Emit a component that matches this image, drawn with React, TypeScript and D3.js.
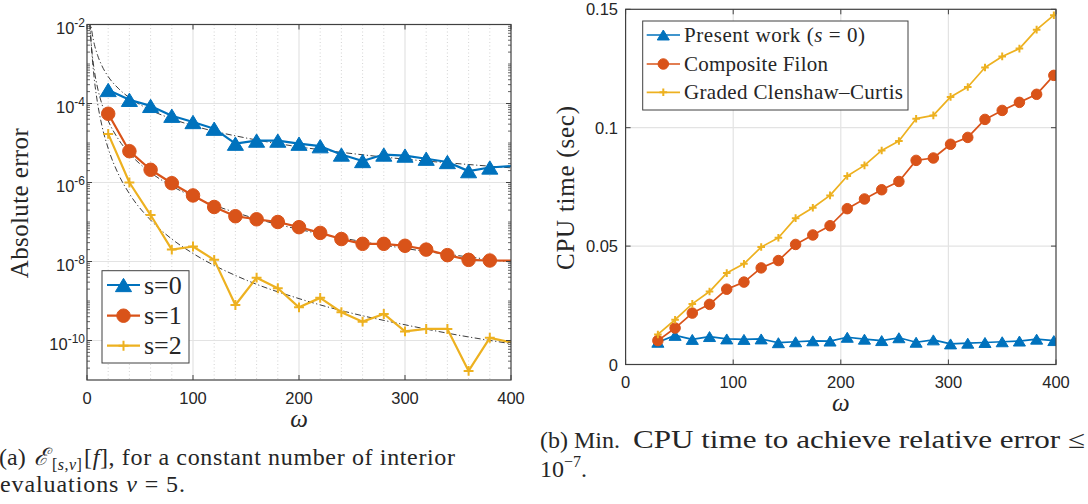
import React from 'react';
import * as d3 from 'd3';

// ---------- Data: panel (a) ----------
const omegaA = [20, 40, 60, 80, 100, 120, 140, 160, 180, 200, 220, 240, 260, 280, 300, 320, 340, 360, 380, 420];
const errS0 = [2.2e-4, 1.24e-4, 8.7e-5, 4.9e-5, 3.4e-5, 2.3e-5, 9.6e-6, 1.15e-5, 1.15e-5, 9.6e-6, 8.3e-6, 5.1e-6, 3.5e-6, 5.1e-6, 4.8e-6, 4.0e-6, 3.3e-6, 1.94e-6, 2.4e-6, 2.8e-6];
const errS1 = [5.5e-5, 6.2e-6, 2.1e-6, 9.6e-7, 4.7e-7, 2.4e-7, 1.4e-7, 1.17e-7, 1.0e-7, 7.4e-8, 5.3e-8, 3.7e-8, 2.8e-8, 2.8e-8, 2.5e-8, 2.0e-8, 1.45e-8, 1.1e-8, 1.06e-8, 1.05e-8];
const errS2 = [1.7e-5, 1.0e-6, 1.5e-7, 2.0e-8, 2.4e-8, 1.1e-8, 7.9e-10, 3.9e-9, 2.1e-9, 6.9e-10, 1.2e-9, 5.2e-10, 3.0e-10, 4.7e-10, 1.7e-10, 1.96e-10, 1.96e-10, 1.7e-11, 1.17e-10, 7.0e-11];
const markerCountA = 19; // markers drawn for omega 20..380 (last point lies beyond the axis)

const refOmega = [2, 3, 4, 5, 7, 10, 14, 20, 30, 40, 60, 80, 100, 150, 200, 250, 300, 350, 400];
const refS0 = [2.9e-2, 1.4e-2, 8.5e-3, 5.7e-3, 3.1e-3, 1.66e-3, 9.1e-4, 4.8e-4, 2.35e-4, 1.4e-4, 6.8e-5, 4.1e-5, 2.75e-5, 1.34e-5, 8.0e-6, 5.4e-6, 3.9e-6, 3.0e-6, 2.35e-6];
const refS1 = [2.07e-2, 6.8e-3, 3.1e-3, 1.66e-3, 6.6e-4, 2.47e-4, 9.8e-5, 3.67e-5, 1.2e-5, 5.45e-6, 1.79e-6, 8.1e-7, 4.4e-7, 1.44e-7, 6.5e-8, 3.55e-8, 2.14e-8, 1.41e-8, 9.7e-9];
const refS2 = [4.6e-2, 9.8e-3, 3.3e-3, 1.4e-3, 3.9e-4, 1.01e-4, 2.8e-5, 7.3e-6, 1.55e-6, 5.2e-7, 1.12e-7, 3.7e-8, 1.6e-8, 3.4e-9, 1.15e-9, 4.9e-10, 2.5e-10, 1.37e-10, 8.3e-11];

const xTicksA = [0, 100, 200, 300, 400];
const xMinorA = [20, 40, 60, 80, 120, 140, 160, 180, 220, 240, 260, 280, 320, 340, 360, 380];
const yTickExpA = [-2, -4, -6, -8, -10];
const legendA = ['s=0', 's=1', 's=2'];

// ---------- Data: panel (b) ----------
const omegaB = [30, 46, 62, 78, 94, 110, 126, 142, 158, 174, 190, 206, 222, 238, 254, 270, 286, 302, 318, 334, 350, 366, 382, 398];
const cpuPresent = [0.0094, 0.0123, 0.0106, 0.0118, 0.0108, 0.0106, 0.0108, 0.0092, 0.0096, 0.0100, 0.0099, 0.0115, 0.0107, 0.0101, 0.0113, 0.0094, 0.0104, 0.0087, 0.0090, 0.0093, 0.0096, 0.0099, 0.0107, 0.0101];
const cpuFilon = [0.0101, 0.0154, 0.0217, 0.0254, 0.0318, 0.0348, 0.0408, 0.0439, 0.0507, 0.0547, 0.0586, 0.0658, 0.0699, 0.0738, 0.0773, 0.0862, 0.0872, 0.0930, 0.0959, 0.1035, 0.1073, 0.1107, 0.1141, 0.1221];
const cpuGraded = [0.0127, 0.0189, 0.0256, 0.0308, 0.0386, 0.0425, 0.0496, 0.0535, 0.0618, 0.0662, 0.0714, 0.0796, 0.0841, 0.0904, 0.0944, 0.1038, 0.1052, 0.1130, 0.1172, 0.1254, 0.1301, 0.1334, 0.1414, 0.1475];
const xTicksB = [0, 100, 200, 300, 400];
const yTicksB = [0, 0.05, 0.1, 0.15];
const yTickLabelsB = ['0', '0.05', '0.1', '0.15'];

// caption subscript pieces of E_[s,nu]
const subPieces = ['[', 's', ',', 'ν', ']'];

const BLUE = '#0072BD';
const ORANGE = '#D95319';
const YELLOW = '#EDB120';
const AXIS = '#404040';
const TEXT = '#262626';
const GRID = '#e3e3e3';
const SANS = '"Liberation Sans", Arial, Helvetica, sans-serif';
const SERIF = '"Liberation Serif", "DejaVu Serif", serif';

type Kind = 'tri' | 'circ' | 'plus';

function Marker({ kind, x, y, color, size }: { kind: Kind; x: number; y: number; color: string; size: number }) {
  if (kind === 'tri') {
    const w = size * 1.15, h = size * 0.95;
    return <path d={`M${x},${y - h / 2}L${x + w / 2},${y + h / 2}L${x - w / 2},${y + h / 2}Z`} fill={color} stroke={color} strokeWidth={1} />;
  }
  if (kind === 'circ') {
    return <circle cx={x} cy={y} r={size / 2} fill={color} stroke={color} strokeWidth={1} />;
  }
  const a = size * 0.38;
  return <path d={`M${x - a},${y}H${x + a}M${x},${y - a}V${y + a}`} stroke={color} strokeWidth={size > 9 ? 2 : 1.6} fill="none" />;
}

export default function App() {
  // Panel (a) scales
  const xA = d3.scaleLinear().domain([0, 400]).range([87, 511]);
  const yA = d3.scaleLog().domain([1e-11, 1e-2]).range([380, 24.5]);
  // Panel (b) scales
  const xB = d3.scaleLinear().domain([0, 400]).range([625.6, 1056]);
  const yB = d3.scaleLinear().domain([0, 0.15]).range([364.5, 9.3]);

  const lineA = (vals: number[]) =>
    d3.line<number>().x((_, i) => xA(omegaA[i])).y((v) => yA(v))(vals) || '';
  const refLine = (vals: number[]) =>
    d3.line<number>().x((_, i) => xA(refOmega[i])).y((v) => yA(v)).curve(d3.curveMonotoneX)(vals) || '';
  const lineB = (vals: number[]) =>
    d3.line<number>().x((_, i) => xB(omegaB[i])).y((v) => yB(v))(vals) || '';

  const [ax0, ax1] = xA.range();
  const [ay1, ay0] = yA.range();
  const [bx0, bx1] = xB.range();
  const [by1, by0] = yB.range();

  const minorY: number[] = [];
  for (let e = -11; e < -2; e++) {
    for (let k = 1; k <= 9; k++) {
      const v = k * Math.pow(10, e);
      if (k === 1 && e % 2 === 0) continue;
      if (v > 1e-11 && v < 1e-2) minorY.push(v);
    }
  }

  const seriesA = [
    { vals: errS0, color: BLUE, kind: 'tri' as Kind, size: 14 },
    { vals: errS1, color: ORANGE, kind: 'circ' as Kind, size: 13.5 },
    { vals: errS2, color: YELLOW, kind: 'plus' as Kind, size: 13 },
  ];
  const seriesB = [
    { vals: cpuPresent, color: BLUE, kind: 'tri' as Kind, size: 10.5, label: 'present' },
    { vals: cpuFilon, color: ORANGE, kind: 'circ' as Kind, size: 10.5, label: 'Composite Filon' },
    { vals: cpuGraded, color: YELLOW, kind: 'plus' as Kind, size: 10, label: 'Graded Clenshaw–Curtis' },
  ];

  const subX = [52, 57.8, 64.6, 69, 76.6];

  return (
    <svg width={1088} height={504} style={{ position: 'absolute', left: 0, top: 0, background: '#fff' }}>
      <defs>
        <clipPath id="clipA"><rect x={ax0} y={ay0} width={ax1 - ax0} height={ay1 - ay0} /></clipPath>
        <clipPath id="clipB"><rect x={bx0} y={by0} width={bx1 - bx0} height={by1 - by0} /></clipPath>
      </defs>
      <rect x={0} y={0} width={1088} height={504} fill="#fff" />

      {/* ================= Panel (a) ================= */}
      <g>
        {xMinorA.map((t) => (
          <line key={'mg' + t} x1={xA(t)} x2={xA(t)} y1={ay0} y2={ay1} stroke="#c8c8c8" strokeWidth={0.8} strokeDasharray="1,2.5" />
        ))}
        {xTicksA.slice(1, -1).map((t) => (
          <line key={'gx' + t} x1={xA(t)} x2={xA(t)} y1={ay0} y2={ay1} stroke={GRID} strokeWidth={1.2} />
        ))}
        {yTickExpA.slice(1).map((e) => (
          <line key={'gy' + e} x1={ax0} x2={ax1} y1={yA(Math.pow(10, e))} y2={yA(Math.pow(10, e))} stroke={GRID} strokeWidth={1.2} />
        ))}

        <g clipPath="url(#clipA)" fill="none" stroke="#262626" strokeWidth={0.9} strokeDasharray="6,2.5,1.2,2.5">
          <path d={refLine(refS0)} />
          <path d={refLine(refS1)} />
          <path d={refLine(refS2)} />
        </g>

        <g clipPath="url(#clipA)">
          {seriesA.map((s, si) => (
            <g key={'sa' + si}>
              <path d={lineA(s.vals)} fill="none" stroke={s.color} strokeWidth={2.2} strokeLinejoin="round" />
              {s.vals.slice(0, markerCountA).map((v, i) => (
                <Marker key={i} kind={s.kind} x={xA(omegaA[i])} y={yA(v)} color={s.color} size={s.size} />
              ))}
            </g>
          ))}
        </g>

        <rect x={ax0} y={ay0} width={ax1 - ax0} height={ay1 - ay0} fill="none" stroke={AXIS} strokeWidth={1.2} />
        {xTicksA.map((t) => (
          <g key={'xt' + t}>
            <line x1={xA(t)} x2={xA(t)} y1={ay1} y2={ay1 - 5} stroke={AXIS} strokeWidth={1} />
            <line x1={xA(t)} x2={xA(t)} y1={ay0} y2={ay0 + 5} stroke={AXIS} strokeWidth={1} />
            <text x={xA(t)} y={404} textAnchor="middle" fontFamily={SANS} fontSize={16.5} fill={TEXT}>{t}</text>
          </g>
        ))}
        {minorY.map((v, i) => (
          <g key={'my' + i}>
            <line x1={ax0} x2={ax0 + 3} y1={yA(v)} y2={yA(v)} stroke={AXIS} strokeWidth={0.8} />
            <line x1={ax1} x2={ax1 - 3} y1={yA(v)} y2={yA(v)} stroke={AXIS} strokeWidth={0.8} />
          </g>
        ))}
        {yTickExpA.map((e) => {
          const y = yA(Math.pow(10, e));
          return (
            <g key={'yt' + e}>
              <line x1={ax0} x2={ax0 + 5} y1={y} y2={y} stroke={AXIS} strokeWidth={1} />
              <line x1={ax1} x2={ax1 - 5} y1={y} y2={y} stroke={AXIS} strokeWidth={1} />
              <text x={85} y={y + 9} textAnchor="end" fontFamily={SANS} fontSize={16.5} fill={TEXT}>
                10<tspan dy={-7} fontSize={12}>{String(e)}</tspan>
              </text>
            </g>
          );
        })}

        <text x={xA(200)} y={427} textAnchor="middle" fontFamily={SERIF} fontStyle="italic" fontSize={25} fill={TEXT}>ω</text>
        <text transform={`translate(28,${(ay0 + ay1) / 2 + 1}) rotate(-90)`} textAnchor="middle" fontFamily={SERIF} fontSize={25} fill={TEXT} textLength={150} lengthAdjust="spacing">Absolute error</text>

        {/* legend (a) */}
        <rect x={102} y={270.7} width={87} height={92.3} fill="#fff" stroke={AXIS} strokeWidth={1} />
        {seriesA.map((s, i) => {
          const y = [285, 315.7, 345.7][i];
          return (
            <g key={'la' + i}>
              <line x1={107} x2={140} y1={y} y2={y} stroke={s.color} strokeWidth={2.2} />
              <Marker kind={s.kind} x={123.5} y={y} color={s.color} size={s.size} />
              <text x={144} y={y + 8.5} fontFamily={SERIF} fontSize={26} fill={TEXT}>{legendA[i]}</text>
            </g>
          );
        })}
      </g>

      {/* ================= Panel (b) ================= */}
      <g>
        {xTicksB.slice(1, -1).map((t) => (
          <line key={'bgx' + t} x1={xB(t)} x2={xB(t)} y1={by0} y2={by1} stroke={GRID} strokeWidth={1.2} />
        ))}
        {yTicksB.slice(1, -1).map((t) => (
          <line key={'bgy' + t} x1={bx0} x2={bx1} y1={yB(t)} y2={yB(t)} stroke={GRID} strokeWidth={1.2} />
        ))}

        <g clipPath="url(#clipB)">
          {seriesB.map((s, si) => (
            <g key={'sb' + si}>
              <path d={lineB(s.vals)} fill="none" stroke={s.color} strokeWidth={1.7} strokeLinejoin="round" />
              {s.vals.map((v, i) => (
                <Marker key={i} kind={s.kind} x={xB(omegaB[i])} y={yB(v)} color={s.color} size={s.size} />
              ))}
            </g>
          ))}
        </g>

        <rect x={bx0} y={by0} width={bx1 - bx0} height={by1 - by0} fill="none" stroke={AXIS} strokeWidth={1.2} />
        {xTicksB.map((t) => (
          <g key={'bxt' + t}>
            <line x1={xB(t)} x2={xB(t)} y1={by1} y2={by1 - 5} stroke={AXIS} strokeWidth={1} />
            <line x1={xB(t)} x2={xB(t)} y1={by0} y2={by0 + 5} stroke={AXIS} strokeWidth={1} />
            <text x={xB(t)} y={387.5} textAnchor="middle" fontFamily={SANS} fontSize={16.5} fill={TEXT}>{t}</text>
          </g>
        ))}
        {yTicksB.map((t, i) => (
          <g key={'byt' + t}>
            <line x1={bx0} x2={bx0 + 5} y1={yB(t)} y2={yB(t)} stroke={AXIS} strokeWidth={1} />
            <line x1={bx1} x2={bx1 - 5} y1={yB(t)} y2={yB(t)} stroke={AXIS} strokeWidth={1} />
            <text x={618} y={yB(t) + 6} textAnchor="end" fontFamily={SANS} fontSize={16.5} fill={TEXT}>{yTickLabelsB[i]}</text>
          </g>
        ))}

        <text x={xB(200)} y={411} textAnchor="middle" fontFamily={SERIF} fontStyle="italic" fontSize={25} fill={TEXT}>ω</text>
        <text transform={`translate(574,188) rotate(-90)`} textAnchor="middle" fontFamily={SERIF} fontSize={25} fill={TEXT} textLength={164} lengthAdjust="spacing">CPU time (sec)</text>

        {/* legend (b) */}
        <rect x={642.7} y={21} width={265.3} height={89} fill="#fff" stroke={AXIS} strokeWidth={1} />
        {seriesB.map((s, i) => {
          const y = [35, 64, 92.3][i];
          return (
            <g key={'lb' + i}>
              <line x1={646.7} x2={680} y1={y} y2={y} stroke={s.color} strokeWidth={1.7} />
              <Marker kind={s.kind} x={663.3} y={y} color={s.color} size={s.size} />
              {i === 0 ? (
                <text x={684} y={y + 7} fontFamily={SERIF} fontSize={21} fill={TEXT} textLength={181} lengthAdjust="spacing">
                  Present work (<tspan fontStyle="italic">s</tspan> = 0)
                </text>
              ) : (
                <text x={684} y={y + 7} fontFamily={SERIF} fontSize={21} fill={TEXT} textLength={i === 1 ? 144 : 219} lengthAdjust="spacing">{s.label}</text>
              )}
            </g>
          );
        })}
      </g>

      {/* ================= Captions ================= */}
      <text x={-1} y={465} fontFamily={SERIF} fontSize={24} fill={TEXT}>(a)</text>
      <text x={34} y={465} fontFamily={SERIF} fontSize={24} fontStyle="italic" fill={TEXT}>ℰ</text>
      {subPieces.map((p, i) => (
        <text key={'sub' + i} x={subX[i]} y={470} fontFamily={SERIF} fontSize={16} fill={TEXT}
          fontStyle={p === 's' || p === 'ν' ? 'italic' : 'normal'}>{p}</text>
      ))}
      <text x={84} y={465} fontFamily={SERIF} fontSize={24} fill={TEXT} textLength={371} lengthAdjust="spacing">
        [<tspan fontStyle="italic">f</tspan>], for a constant number of interior
      </text>
      <text x={0} y={492} fontFamily={SERIF} fontSize={24} fill={TEXT} textLength={185} lengthAdjust="spacing">
        evaluations <tspan fontStyle="italic">ν</tspan> = 5.
      </text>
      <text x={540} y={448} fontFamily={SERIF} fontSize={24} fill={TEXT}>
        (b) Min.
      </text>
      <text x={633} y={448} fontFamily={SERIF} fontSize={25} fill={TEXT} textLength={452} lengthAdjust="spacingAndGlyphs">
        CPU time to achieve relative error ≤
      </text>
      <text x={540} y={477} fontFamily={SERIF} fontSize={24} fill={TEXT}>
        10<tspan fontSize={16} dy={-10}>−7</tspan><tspan dy={10}>.</tspan>
      </text>
    </svg>
  );
}
